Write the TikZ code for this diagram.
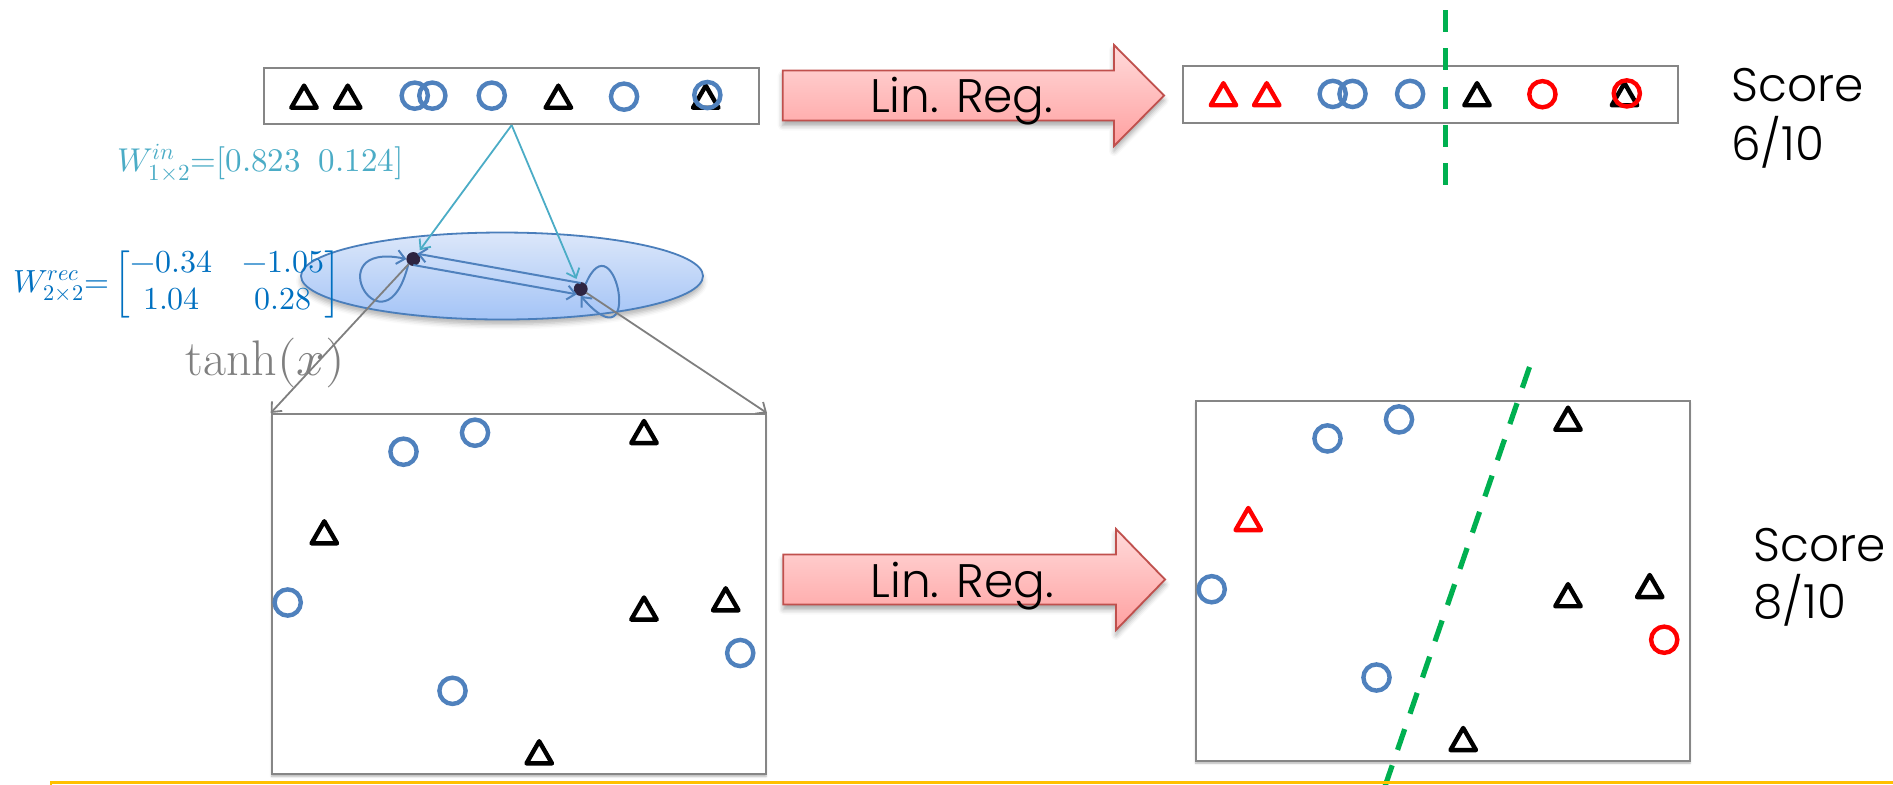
\documentclass[tikz,border=0pt]{standalone}
\usepackage{amsmath}
\usepackage{fontspec}
\usepackage{unicode-math}
\setmathfont{Latin Modern Math}
\newfontfamily\gothic{Poppins Light}
\usetikzlibrary{arrows.meta,calc,shapes.geometric,shadows.blur}
\definecolor{ptblue}{HTML}{4F81BD}
\definecolor{ptred}{HTML}{FF0000}
\definecolor{dgreen}{HTML}{00B050}
\definecolor{boxgray}{HTML}{868686}
\definecolor{cyanw}{HTML}{4BACC6}
\definecolor{recblue}{HTML}{0070C0}
\definecolor{gline}{HTML}{7F7F7F}
\definecolor{dotc}{HTML}{2E2441}
\definecolor{arrowedge}{HTML}{C0504D}
\definecolor{yline}{HTML}{FFC000}
\definecolor{ellborder}{HTML}{4A7EBB}
\newcommand\mytri[3]{\draw[#3, line width=2.2pt, line join=round] (#1,#2) ++(0,-11.05) -- ++(12.75,22.1) -- ++(-25.5,0) -- cycle;}
\newcommand\mycirc[3]{\draw[#3, line width=2.2pt] (#1,#2) circle[radius=6.55pt];}
\tikzset{
  stripbox/.style={draw=boxgray, line width=1pt, fill=white, inner sep=0pt, minimum height=28.3pt, minimum width=247.6pt},
  plotbox/.style={draw=boxgray, line width=1pt, fill=white, inner sep=0pt, minimum height=180pt, minimum width=247.15pt,
     blur shadow={shadow xshift=0pt, shadow yshift=-1.2pt, shadow opacity=30, shadow blur radius=1pt}},
  blockarrow/.style={draw=arrowedge, line width=0.9pt, line join=miter,
     top color={rgb,255:red,255;green,218;blue,218}, bottom color={rgb,255:red,255;green,160;blue,160},
     blur shadow={shadow xshift=0pt, shadow yshift=-2.5pt, shadow opacity=35, shadow blur radius=2.5pt}},
  lrtext/.style={font=\gothic\fontsize{23.5}{28}\selectfont, inner sep=0pt, text=black},
  scoretext/.style={font=\gothic\fontsize{23.5}{28}\selectfont, inner sep=0pt, text=black},
  layer/.style={ellipse, draw=ellborder, line width=0.9pt, inner sep=0pt, minimum width=201pt, minimum height=43.5pt,
     top color={rgb,255:red,220;green,231;blue,250}, bottom color={rgb,255:red,164;green,196;blue,246},
     blur shadow={shadow xshift=0pt, shadow yshift=-2.5pt, shadow opacity=30, shadow blur radius=2.5pt}},
  neuron/.style={circle, fill=dotc, draw=dotc, inner sep=0pt, minimum size=6.5pt},
  cyanarrow/.style={draw=cyanw, line width=0.9pt, -{Straight Barb[length=4pt,width=7pt]}, shorten >=2pt},
  recarrow/.style={draw=ptblue, line width=1pt, -{Straight Barb[length=4pt,width=7pt]}},
  grayarrow/.style={draw=gline, line width=0.9pt, -{Straight Barb[length=4pt,width=7pt]}},
  gdash/.style={draw=dgreen, line width=2.6pt, dash pattern=on 11pt off 8.15pt},
}
\begin{document}
\begin{tikzpicture}[x=0.5pt, y=-0.5pt]
\useasboundingbox (0,0) rectangle (1893,784);
\clip (0,0) rectangle (1893,784);

% ---------- top strips ----------
\node[stripbox] (strip1) at (511.65,95.85) {};
\node[stripbox] (strip2) at (1430.5,94.2) {};

\begin{scope}[shift={(strip1.west)}]
  \mytri{41}{0.8}{black}
  \mytri{84.7}{0.8}{black}
  \mycirc{151.7}{-0.2}{ptblue}
  \mycirc{169.3}{-0.2}{ptblue}
  \mycirc{228.7}{-0.2}{ptblue}
  \mytri{295.3}{0.8}{black}
  \mycirc{361}{0.8}{ptblue}
  \mytri{442.7}{0.8}{black}
  \mycirc{444.3}{-0.8}{ptblue}
\end{scope}
\begin{scope}[shift={(strip2.west)}]
  \mytri{41.5}{0}{ptred}
  \mytri{84.8}{0}{ptred}
  \mycirc{150.8}{-0.3}{ptblue}
  \mycirc{170.6}{-0.3}{ptblue}
  \mycirc{228.2}{-0.3}{ptblue}
  \mytri{295.1}{0}{black}
  \mycirc{360.5}{0}{ptred}
  \mytri{442.6}{0}{black}
  \mycirc{444.9}{-0.8}{ptred}
\end{scope}
\draw[gdash] (1445.7,10) -- (1445.7,186);

% ---------- block arrows ----------
\path[blockarrow] (782.7,70.5) -- (1114,70.5) -- (1114,45) -- (1164,95.5) -- (1114,146) -- (1114,120.5) -- (782.7,120.5) -- cycle;
\node[lrtext, anchor=base] (lr1) at (961.7,112) {Lin. Reg.};
\path[blockarrow] (783.3,554.5) -- (1116,554.5) -- (1116,529) -- (1165,579.5) -- (1116,630) -- (1116,604.5) -- (783.3,604.5) -- cycle;
\node[lrtext, anchor=base] (lr2) at (962,597) {Lin. Reg.};

% ---------- scores ----------
\node[scoretext, anchor=base west] (s1a) at (1731,101.7) {Score};
\node[scoretext, anchor=base west] (s1b) at (1731,160) {6/10};
\node[scoretext, anchor=base west] (s2a) at (1753,561.7) {Score};
\node[scoretext, anchor=base west] (s2b) at (1753,618.3) {8/10};

% ---------- plot boxes ----------
\node[plotbox] (box1) at (518.85,594) {};
\node[plotbox] (box2) at (1442.85,580.7) {};

\begin{scope}[shift={(box1.north west)}]
  \mycirc{132.8}{38.7}{ptblue}
  \mycirc{204.3}{19.7}{ptblue}
  \mytri{373.3}{19}{black}
  \mytri{53.6}{119.3}{black}
  \mycirc{17}{189.5}{ptblue}
  \mytri{373.3}{195.5}{black}
  \mytri{455}{186.3}{black}
  \mycirc{469.5}{240}{ptblue}
  \mycirc{181.8}{277.8}{ptblue}
  \mytri{268.5}{339.3}{black}
\end{scope}
\begin{scope}[shift={(box2.north west)}]
  \mycirc{132.8}{38.7}{ptblue}
  \mycirc{204.3}{19.7}{ptblue}
  \mytri{373.3}{19}{black}
  \mytri{53.6}{119.3}{ptred}
  \mycirc{17}{189.5}{ptblue}
  \mytri{373.3}{195.5}{black}
  \mytri{455}{186.3}{black}
  \mycirc{469.5}{240}{ptred}
  \mycirc{181.8}{277.8}{ptblue}
  \mytri{268.5}{339.3}{black}
\end{scope}
\draw[gdash] (1529.5,367) -- (1383,792);

% ---------- recurrent layer ----------
\node[layer] (layer) at (502,276) {};
\node[neuron] (n1) at (413.3,259) {};
\node[neuron] (n2) at (580.7,289) {};
\draw[cyanarrow] (strip1.south) -- (n1);
\draw[cyanarrow] (strip1.south) -- (n2);
\draw[recarrow, shorten >=2pt] ([yshift=3pt]n2.center) -- ([yshift=3pt]n1.center);
\draw[recarrow, shorten >=2pt] ([yshift=-3pt]n1.center) -- ([yshift=-3pt]n2.center);
\draw[recarrow] (n1.south west) .. controls (385,360) and (315,240) .. (n1.west);
\draw[recarrow] (n2.north east) .. controls (615,215) and (645,370) .. (n2.south);
\draw[grayarrow] (n1) -- (box1.north west);
\draw[grayarrow] (n2) -- (box1.north east);

% ---------- labels ----------
\node[anchor=base west, text=cyanw, inner sep=0pt, font=\fontsize{16.5}{20}\selectfont] (win) at (117,171.7)
  {$W^{in}_{1\times2}{=}[0.823\hspace{9pt}0.124]$};
\node[anchor=base west, text=recblue, inner sep=0pt, font=\fontsize{16}{18.5}\selectfont] (wrec) at (13,292)
  {\setlength{\arraycolsep}{7.5pt}$W^{rec}_{2\times2}{=}\left[\begin{matrix}-0.34 & -1.05\\ 1.04 & 0.28\end{matrix}\right]$};
\node[anchor=base west, text=gline, inner sep=0pt, font=\fontsize{25}{30}\selectfont] (tanh) at (185,375) {$\tanh(x)$};

% ---------- bottom frame ----------
\draw[yline, line width=1.3pt] (51,800) -- (51,782.7) -- (1900,782.7);
\end{tikzpicture}
\end{document}
